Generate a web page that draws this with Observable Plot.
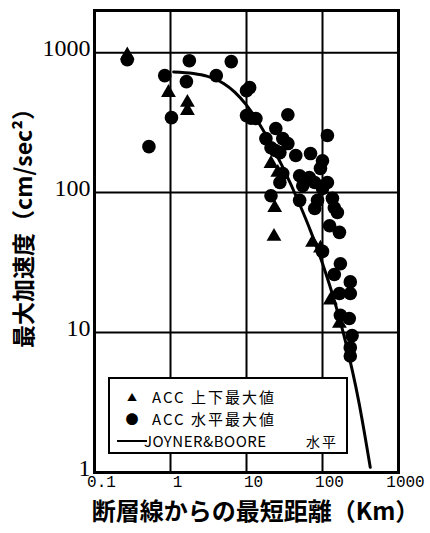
<!DOCTYPE html>
<html><head><meta charset="utf-8">
<script src="https://cdn.jsdelivr.net/npm/d3@7"></script>
<script src="https://cdn.jsdelivr.net/npm/@observablehq/plot@0.6"></script>
<style>
body{margin:0;background:#fff}
#wrap{position:relative;width:430px;height:533px}
#legend{position:absolute;left:108px;top:377px;width:236px;height:73px;border:2px solid #000;background:#fff;
  font-family:"Noto Sans CJK JP","Noto Sans",sans-serif;font-size:15px;letter-spacing:2px;color:#000}
#legend .row{position:absolute;left:0;height:20px;line-height:20px;white-space:nowrap}
#legend .sym{position:absolute;width:20px;text-align:center;letter-spacing:0}
#legend .txt{position:absolute;left:42px}
</style>
</head><body><div id="wrap"><div id="chart"></div><div id="legend"></div></div>
<script>
// ACC 水平最大値 (horizontal peak acceleration): distance (km), acceleration (cm/sec^2)
const hDist = [0.27,0.84,1.77,6.3,4.0,1.62,1.03,0.52,10,11,10,11.5,13.3,35,116,24.3,18,30,35,21,27.5,44.5,69.6,100,94,30,50,27.5,67,79,116,55,100,21,50,86,135,79,143,157,124,167,100,172,232,143,167,232,172,225,245,232,232,24];
const hAcc  = [890,685,876,863,685,621,343,213,535,562,355,340,338,360,256,287,243,243,224,209,193,184,190,169,149,137,132,118,128,118,118,112,107,95,88,88,91,77,78,72,58,52,38,31,23,26,19,19,13.3,12.6,9.5,7.8,6.8,200];
// ACC 上下最大値 (vertical peak acceleration)
const vDist = [0.27,0.94,1.67,1.67,21,25.8,23,23.5,74,94,127,167];
const vAcc  = [960,518,440,385,161,139,48.5,78,44,40,17,11.6];
// JOYNER&BOORE 水平 curve
const jbDist = [1.1,2,3,5,7,10,15,20,30,50,70,100,150,200,300,425];
const jbAcc  = [728,710,679,602,523,422,305,233,152,82.5,52.8,31.1,15.5,8.68,3.22,1.09];
// axes
const xTicks = [0.1,1,10,100,1000];
const xTickLabels = ["0.1","1","10","100","1000"];
const yTicks = [1,10,100,1000];
const yTickLabels = ["1","10","100","1000"];
const xTitle = "断層線からの最短距離（Km）";
const yTitle = "最大加速度（cm/sec²）";
const legendItems = [
  {sym:"▲", text:"ACC 上下最大値"},
  {sym:"●", text:"ACC 水平最大値"},
  {sym:"line", text:"JOYNER&BOORE", extra:"水平"}
];

const horiz = hDist.map((d,i)=>({d, a:hAcc[i]}));
const vert = vDist.map((d,i)=>({d, a:vAcc[i]}));
const jb = jbDist.map((d,i)=>({d, a:jbAcc[i]}));

const cjk = "'Noto Sans CJK JP', 'Noto Sans', sans-serif";
const chart = Plot.plot({
  width: 430, height: 533,
  marginLeft: 94, marginRight: 32, marginTop: 10, marginBottom: 61,
  style: {background:"#fff", color:"#000"},
  x: {type:"log", domain:[0.1,1000]},
  y: {type:"log", domain:[1,2000]},
  marks: [
    Plot.gridX(xTicks, {stroke:"#000", strokeOpacity:1, strokeWidth:2}),
    Plot.gridY(yTicks, {stroke:"#000", strokeOpacity:1, strokeWidth:2}),
    Plot.axisX(xTicks, {tickSize:0, tickPadding:3, dx:7, label:null,
      tickFormat:(d)=>xTickLabels[xTicks.indexOf(d)], fontSize:16, fontFamily:"'Liberation Mono', 'DejaVu Sans Mono', monospace"}),
    Plot.axisY(yTicks, {tickSize:0, tickPadding:4, dy:-4, label:null,
      tickFormat:(d)=>yTickLabels[yTicks.indexOf(d)], fontSize:24, fontFamily:"'Liberation Serif', serif", letterSpacing:"2px"}),
    Plot.line(jb, {x:"d", y:"a", stroke:"#000", strokeWidth:3, curve:"monotone-x"}),
    Plot.dot(vert, {x:"d", y:"a", symbol:"triangle", r:5.5, fill:"#000", stroke:"none"}),
    Plot.dot(horiz, {x:"d", y:"a", r:6.8, fill:"#000", stroke:"none"}),
    Plot.frame({stroke:"#000", strokeWidth:3}),
    Plot.text([xTitle], {frameAnchor:"bottom", lineAnchor:"middle", textAnchor:"middle", dy:40, dx:9, fontSize:24, fontWeight:"bold", fontFamily:cjk}),
    Plot.text([yTitle], {frameAnchor:"left", lineAnchor:"middle", textAnchor:"middle", rotate:-90, dx:-70, dy:-19, fontSize:23, fontWeight:"bold", fontFamily:cjk})
  ]
});
document.getElementById("chart").appendChild(chart);

const lg = document.getElementById("legend");
const rowTops = [8, 30, 52];
legendItems.forEach((it,i)=>{
  const row = document.createElement("div");
  row.className = "row";
  row.style.top = rowTops[i] + "px";
  row.style.width = "236px";
  if (it.sym === "line") {
    const ln = document.createElement("div");
    ln.style.cssText = "position:absolute;left:7px;top:9px;width:30px;height:0;border-top:2.5px solid #000";
    row.appendChild(ln);
    const t = document.createElement("span");
    t.className = "txt"; t.style.left = "34px"; t.style.letterSpacing = "0.5px"; t.textContent = it.text;
    row.appendChild(t);
    const e = document.createElement("span");
    e.style.cssText = "position:absolute;left:196px;font-size:14px";
    e.textContent = it.extra;
    row.appendChild(e);
  } else {
    const s = document.createElement("span");
    s.className = "sym"; s.style.left = "12px";
    s.style.fontSize = it.sym === "▲" ? "10px" : "13px";
    s.textContent = it.sym;
    row.appendChild(s);
    const t = document.createElement("span");
    t.className = "txt"; t.textContent = it.text;
    row.appendChild(t);
  }
  lg.appendChild(row);
});
</script>
</body></html>
